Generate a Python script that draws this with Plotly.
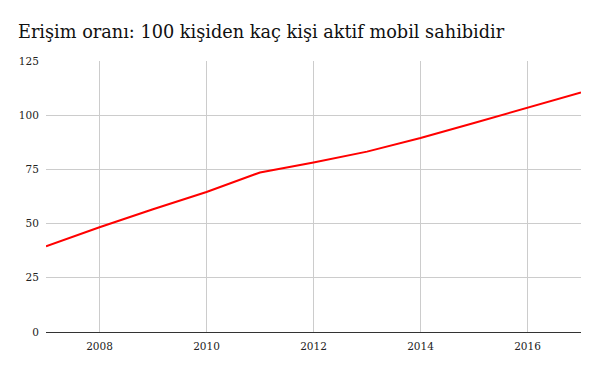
import plotly.graph_objects as go

years = [2007, 2008, 2009, 2010, 2011, 2012, 2013, 2014, 2015, 2016, 2017]
values = [39.5, 48.3, 56.6, 64.6, 73.6, 78.2, 83.2, 89.5, 96.4, 103.6, 110.5]
x_ticks = [2008, 2010, 2012, 2014, 2016]
y_ticks = [0, 25, 50, 75, 100, 125]
title_text = "Erişim oranı: 100 kişiden kaç kişi aktif mobil sahibidir"

fig = go.Figure()
fig.add_trace(go.Scatter(x=years, y=values, mode="lines",
                         line=dict(color="#ff0000", width=2), showlegend=False))

fig.update_layout(
    width=600, height=371,
    margin=dict(l=46, r=19, t=61, b=39),
    paper_bgcolor="white", plot_bgcolor="white",
    title=dict(text=title_text, x=18/600, xanchor="left", y=1-32/371, yanchor="middle",
               font=dict(family="DejaVu Serif, Georgia, serif", size=17.7, color="#111")),
    font=dict(family="DejaVu Serif, Georgia, serif", size=10.5, color="#222"),
    xaxis=dict(range=[2007, 2017], tickvals=x_ticks, ticktext=[str(t) for t in x_ticks],
               showgrid=True, gridcolor="#cccccc", gridwidth=1,
               showline=True, linecolor="#333333", linewidth=1,
               zeroline=False, ticks="outside", ticklen=4, tickcolor="rgba(0,0,0,0)",
               fixedrange=True),
    yaxis=dict(range=[0, 125], tickvals=y_ticks, showgrid=True, gridcolor="#cccccc",
               gridwidth=1, zeroline=False, showline=False, ticks="outside",
               ticklen=4, tickcolor="rgba(0,0,0,0)", fixedrange=True),
)

fig.write_html("out.html")
